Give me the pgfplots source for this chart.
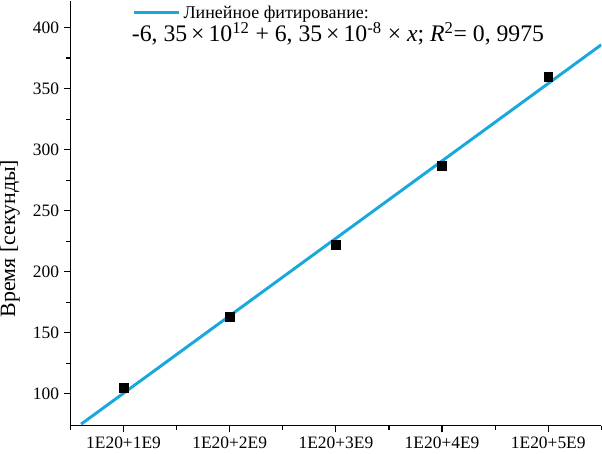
\documentclass[border=0pt]{standalone}
\usepackage{pgfplots}
\pgfplotsset{compat=1.18}
\usepackage{fontspec}
\setmainfont{Liberation Serif}
\definecolor{fitblue}{RGB}{24,168,222}
\begin{document}
\begin{tikzpicture}
\begin{axis}[
    scale only axis,
    width=396pt, height=317pt,
    xmin=0.5, xmax=5.5,
    ymin=74, ymax=422,
    axis x line=bottom, axis y line=left,
    axis line style={-, line width=1pt},
    tick align=outside,
    major tick length=5pt, minor tick length=3pt,
    tick style={line width=0.9pt, black},
    xtick={1,2,3,4,5},
    xticklabels={1E20+1E9,1E20+2E9,1E20+3E9,1E20+4E9,1E20+5E9},
    minor xtick={0.5,1.5,2.5,3.5,4.5,5.5},
    ytick={100,150,200,250,300,350,400},
    minor ytick={125,175,225,275,325,375},
    ticklabel style={font=\fontsize{13}{15}\selectfont},
    /pgf/number format/assume math mode=true,
    ylabel={Время [секунды]},
    ylabel style={font=\fontsize{16.3}{18}\selectfont, inner sep=0pt,
        at={(axis description cs:-0.114,0.44)}, anchor=center},
    legend style={at={(axis description cs:0.116,0.995)}, anchor=north west,
        draw=none, fill=none, inner sep=0pt,
        font=\fontsize{13.4}{15}\selectfont},
    legend image code/.code={\draw[#1] (0pt,0pt) -- (34pt,0pt);},
]
% data points
\addplot[only marks, mark=square*, mark size=3.3pt, black, forget plot]
    coordinates {(1,105) (2,163) (3,222) (4,287) (5,360)};
% linear fit
\addplot[fitblue, line width=2.2pt] coordinates {(0.6,75.2) (5.5,385.9)};
\addlegendentry{Линейное фитирование:}
\node[font=\fontsize{17.7}{21}\selectfont] at (axis description cs:0.504,0.922)
    {-6, 35\,×\,10\textsuperscript{12} + 6, 35\,×\,10\textsuperscript{-8} × \textit{x}; \textit{R}\textsuperscript{2}= 0, 9975};
\end{axis}
\end{tikzpicture}
\end{document}
